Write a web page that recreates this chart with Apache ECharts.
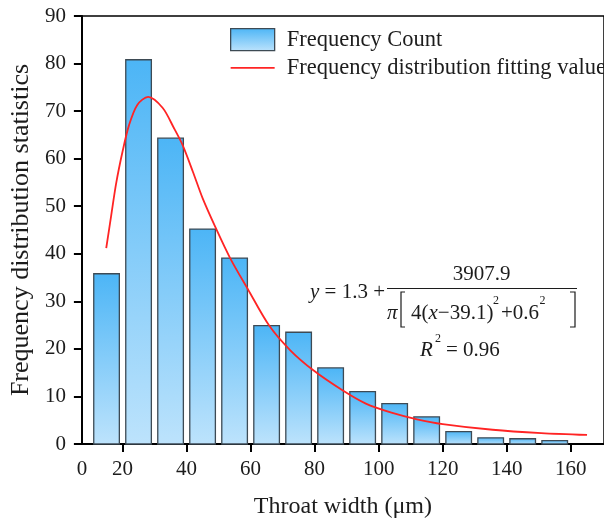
<!DOCTYPE html>
<html>
<head>
<meta charset="utf-8">
<title>Throat width frequency distribution</title>
<script src="https://cdn.jsdelivr.net/npm/echarts@6/dist/echarts.min.js"></script>
<style>
  html, body { margin: 0; padding: 0; background: #ffffff; }
  #chart { width: 604px; height: 524px; }
</style>
</head>
<body>
<div id="chart"></div>
<script>
// Histogram bins (centre of each 10 µm class) and their counts
const binCenters = [15, 25, 35, 45, 55, 65, 75, 85, 95, 105, 115, 125, 135, 145, 155];
const counts = [35.8, 80.8, 64.3, 45.2, 39.1, 24.9, 23.5, 16.0, 11.0, 8.5, 5.7, 2.6, 1.3, 1.1, 0.7];

// Fitted distribution curve, sampled along the x axis
const fitX = [14.9, 16.4, 18.0, 20.0, 22.0, 24.6, 28.0, 32.5, 36.0, 38.8, 42.0, 45.0, 49.0,
              53.6, 59.2, 65.8, 72.4, 79.6, 88.7, 96.0, 104.0, 112.0, 120.0, 135.6, 150.8, 165.1];
const fitY = [41.2, 47.8, 54.8, 61.5, 67.0, 71.3, 73.0, 70.7, 66.5, 62.8, 57.2, 51.7, 45.6,
              39.1, 32.5, 24.9, 19.7, 15.5, 11.3, 8.5, 6.6, 5.2, 4.2, 3.0, 2.3, 1.9];

// Axis ticks
const xTickValues = [20, 40, 60, 80, 100, 120, 140, 160];
const xOriginLabel = '0';
const yTicks = [0, 10, 20, 30, 40, 50, 60, 70, 80, 90];

const seriesNames = ['Frequency Count', 'Frequency distribution fitting value'];

const xMin = 7.3, xMax = 170.4;
const barSpan = 8;           // drawn width of each bar in x units
const serif = 'Liberation Serif';
const ink = '#1c1c1c';
const fitRed = '#ff2424';

const barFill = () => new echarts.graphic.LinearGradient(0, 0, 0, 1, [
  { offset: 0, color: '#4cb5f6' },
  { offset: 1, color: '#bde3fc' }
]);

const chart = echarts.init(document.getElementById('chart'), null, { renderer: 'canvas' });

const barData = binCenters.map((c, i) => [c, counts[i]]);
const fitData = fitX.map((x, i) => [x, fitY[i]]);

const eqY = 292, denY = 313, supY = 301;

chart.setOption({
  animation: false,
  backgroundColor: '#ffffff',
  grid: {
    left: 80, right: -10, top: 16, bottom: 76.5,
    show: true, borderColor: '#000', borderWidth: 1.5, backgroundColor: 'transparent'
  },
  legend: {
    orient: 'vertical',
    left: 225, top: 23,
    itemWidth: 44, itemHeight: 22, itemGap: 5,
    symbolKeepAspect: true,
    textStyle: { fontFamily: serif, fontSize: 22.5, color: ink, padding: [0, 0, 0, 7] },
    data: [
      { name: seriesNames[0], icon: 'rect',
        itemStyle: { color: barFill(), borderColor: '#3d4a54', borderWidth: 1.3 } },
      { name: seriesNames[1], icon: 'path://M0,0L44,0L44,1.8L0,1.8Z',
        itemStyle: { color: fitRed, borderWidth: 0 } }
    ]
  },
  xAxis: {
    type: 'value',
    min: xMin, max: xMax,
    name: 'Throat width (μm)',
    nameLocation: 'middle',
    nameGap: 51,
    nameTextStyle: { fontFamily: serif, fontSize: 24, color: ink },
    axisLine: { show: true, lineStyle: { color: '#000', width: 2 } },
    axisTick: { show: true, length: 8, inside: false, customValues: xTickValues,
                lineStyle: { color: '#000', width: 2 } },
    axisLabel: {
      customValues: [xMin].concat(xTickValues),
      formatter: v => (v === xMin ? xOriginLabel : String(v)),
      fontFamily: serif, fontSize: 21, color: ink, margin: 15
    },
    splitLine: { show: false }
  },
  yAxis: {
    type: 'value',
    min: 0, max: 90, interval: 10,
    name: 'Frequency distribution statistics',
    nameLocation: 'middle',
    nameRotate: 90,
    nameGap: 34,
    nameTextStyle: { fontFamily: serif, fontSize: 26, color: ink },
    axisLine: { show: true, lineStyle: { color: '#000', width: 2 } },
    axisTick: { show: true, length: 8, lineStyle: { color: '#000', width: 2 } },
    axisLabel: {
      fontFamily: serif, fontSize: 21, color: ink, margin: 16,
      formatter: v => (yTicks.indexOf(v) >= 0 ? String(v) : '')
    },
    splitLine: { show: false }
  },
  series: [
    {
      name: seriesNames[0],
      type: 'custom',
      data: barData,
      encode: { x: 0, y: 1 },
      itemStyle: { color: '#4cb5f6' },
      renderItem: function (params, api) {
        const c = api.value(0), v = api.value(1);
        const p0 = api.coord([c - barSpan / 2, v]);
        const p1 = api.coord([c + barSpan / 2, 0]);
        return {
          type: 'rect',
          shape: { x: p0[0], y: p0[1], width: p1[0] - p0[0], height: p1[1] - p0[1] },
          style: { fill: barFill(), stroke: '#3d4a54', lineWidth: 1.3 }
        };
      },
      z: 2
    },
    {
      name: seriesNames[1],
      type: 'line',
      data: fitData,
      smooth: 0.3,
      symbol: 'none',
      showSymbol: false,
      lineStyle: { color: fitRed, width: 1.8 },
      itemStyle: { color: fitRed },
      z: 3
    }
  ],
  graphic: [
    { type: 'text', x: 310, y: eqY, z: 10,
      style: { text: '{i|y} = 1.3 +', verticalAlign: 'middle', align: 'left',
        font: '21px ' + serif, fill: ink,
        rich: { i: { fontFamily: serif, fontStyle: 'italic', fontSize: 21, fill: ink } } } },
    { type: 'text', x: 481.5, y: 274, z: 10,
      style: { text: '3907.9', align: 'center', verticalAlign: 'middle', font: '21px ' + serif, fill: ink } },
    { type: 'line', z: 10, shape: { x1: 387, y1: 288.5, x2: 577, y2: 288.5 },
      style: { stroke: ink, lineWidth: 1.2 } },
    { type: 'text', x: 387, y: denY, z: 10,
      style: { text: 'π', align: 'left', verticalAlign: 'middle', font: 'italic 21px ' + serif, fill: ink } },
    { type: 'polyline', z: 10, shape: { points: [[405, 292], [401, 292], [401, 327], [405, 327]] },
      style: { stroke: ink, lineWidth: 1.2, fill: null } },
    { type: 'text', x: 411, y: denY, z: 10,
      style: { text: '4({i|x}−39.1)', align: 'left', verticalAlign: 'middle', font: '21px ' + serif, fill: ink,
        rich: { i: { fontFamily: serif, fontStyle: 'italic', fontSize: 21, fill: ink } } } },
    { type: 'text', x: 493, y: supY, z: 10,
      style: { text: '2', align: 'left', verticalAlign: 'middle', font: '12px ' + serif, fill: ink } },
    { type: 'text', x: 501, y: denY, z: 10,
      style: { text: '+0.6', align: 'left', verticalAlign: 'middle', font: '21px ' + serif, fill: ink } },
    { type: 'text', x: 539.5, y: supY, z: 10,
      style: { text: '2', align: 'left', verticalAlign: 'middle', font: '12px ' + serif, fill: ink } },
    { type: 'polyline', z: 10, shape: { points: [[570, 292], [575, 292], [575, 327], [570, 327]] },
      style: { stroke: ink, lineWidth: 1.2, fill: null } },
    { type: 'text', x: 420, y: 350, z: 10,
      style: { text: 'R', align: 'left', verticalAlign: 'middle', font: 'italic 21px ' + serif, fill: ink } },
    { type: 'text', x: 435, y: 339, z: 10,
      style: { text: '2', align: 'left', verticalAlign: 'middle', font: '12px ' + serif, fill: ink } },
    { type: 'text', x: 446, y: 350, z: 10,
      style: { text: '= 0.96', align: 'left', verticalAlign: 'middle', font: '21px ' + serif, fill: ink } }
  ]
});
</script>
</body>
</html>
